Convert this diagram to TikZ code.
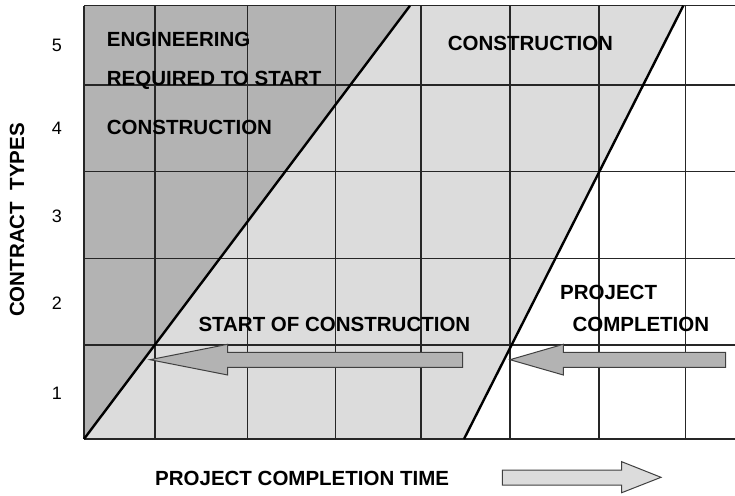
\documentclass[tikz,border=0pt]{standalone}
\usepackage{fontspec}
\setmainfont{Liberation Sans}
\definecolor{darkg}{HTML}{B3B3B3}
\definecolor{lightg}{HTML}{DCDCDC}
\definecolor{gridc}{HTML}{262626}
\definecolor{outl}{HTML}{404040}
\begin{document}
\begin{tikzpicture}[x=1pt,y=-1pt,
  gridline/.style={draw=gridc,line width=1.2pt},
  diag/.style={draw=black,line width=2.4pt},
  blockarrow/.style={draw=outl,line width=1pt},
  lbl/.style={inner sep=0pt,font=\bfseries\fontsize{20.5}{24}\selectfont},
  num/.style={inner sep=0pt,font=\fontsize{18}{20}\selectfont}]
\useasboundingbox (0,0) rectangle (735,495);
% regions
\fill[darkg] (84,5.7) -- (410,5.7) -- (84,439) -- cycle;
\fill[lightg] (410,5.7) -- (683.3,5.7) -- (464,439) -- (84,439) -- cycle;
% grid
\foreach \x in {155,247.3,335.3,421,510,599,685.7}
  \draw[gridline] (\x,5.7) -- (\x,439);
\foreach \y in {5.7,85,171.7,258.3,345,439}
  \draw[gridline] (84,\y) -- (735,\y);
\draw[gridline] (84,5.7) -- (84,439);
% diagonals
\coordinate (d1a) at (84,439);
\coordinate (d1b) at (410,5.7);
\coordinate (d2a) at (464,439);
\coordinate (d2b) at (683.3,5.7);
\draw[diag] (d1a) -- (d1b);
\draw[diag] (d2a) -- (d2b);
% block arrows
\draw[blockarrow,fill=darkg] (462.7,352.3) -- (227.7,352.3) -- (227.7,344.3) -- (150,359.7)
  -- (227.7,375) -- (227.7,367.3) -- (462.7,367.3) -- cycle;
\draw[blockarrow,fill=darkg] (725.7,352.3) -- (563.3,352.3) -- (563.3,344.3) -- (510,359.7)
  -- (563.3,375) -- (563.3,367.3) -- (725.7,367.3) -- cycle;
\draw[blockarrow,fill=lightg] (502.3,470) -- (621.7,470) -- (621.7,461.7) -- (661,477.3)
  -- (621.7,492.7) -- (621.7,485) -- (502.3,485) -- cycle;
% labels
\node[lbl,anchor=base west] (eng) at (106.7,46.7) {ENGINEERING};
\node[lbl,anchor=base west] (req) at (106.7,85) {REQUIRED TO START};
\node[lbl,anchor=base west] (con1) at (106.7,134) {CONSTRUCTION};
\node[lbl,anchor=base west] (con2) at (447.7,51) {CONSTRUCTION};
\node[lbl,anchor=base west] (soc) at (198.3,331) {START OF CONSTRUCTION};
\node[lbl,anchor=base west] (proj) at (560,299) {PROJECT};
\node[lbl,anchor=base west] (comp) at (572.3,331) {COMPLETION};
\node[lbl,anchor=base west] (pct) at (155,485.7) {PROJECT COMPLETION TIME};
\node[lbl,rotate=90] (ct) at (17,220) {CONTRACT\ \ TYPES};
\node[num] (n5) at (57,45) {5};
\node[num] (n4) at (57,128) {4};
\node[num] (n3) at (57,216) {3};
\node[num] (n2) at (57,303) {2};
\node[num] (n1) at (57,393) {1};
\end{tikzpicture}
\end{document}
